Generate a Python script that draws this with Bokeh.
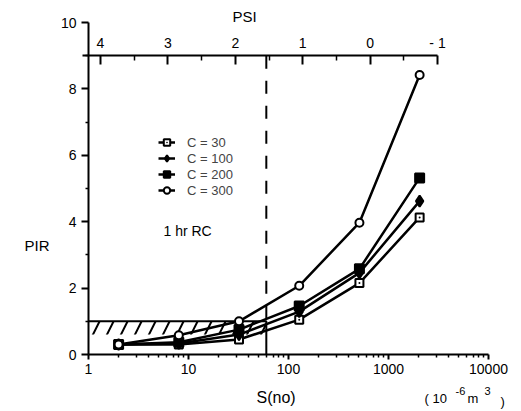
from bokeh.plotting import figure
from bokeh.models import (LinearAxis, LogAxis, Range1d, LinearScale, FixedTicker, Label,
                          Legend, LegendItem, PrintfTickFormatter)
from bokeh.embed import file_html
from bokeh.resources import INLINE

# ---------------- data ----------------
S = [2, 8, 32, 128, 512, 2048]
pir_c30 = [0.30, 0.30, 0.45, 1.05, 2.15, 4.13]
pir_c100 = [0.30, 0.33, 0.60, 1.29, 2.46, 4.62]
pir_c200 = [0.30, 0.37, 0.75, 1.46, 2.58, 5.32]
pir_c300 = [0.30, 0.58, 1.00, 2.07, 3.97, 8.42]
series_labels = ["C = 30", "C = 100", "C = 200", "C = 300"]

x_ticks = [1, 10, 100, 1000, 10000]
y_ticks = [0, 2, 4, 6, 8, 10]
y_minor = [1, 3, 5, 7, 9]
psi_ticks = [4, 3, 2, 1, 0, -1]
psi_minor = [3.5, 2.5, 1.5, 0.5, -0.5]

S_limit = 60          # dashed threshold
PIR_limit = 1         # hatched threshold
hatch_bottom = 0.6
psi_axis_level = 9

FONT = "Liberation Sans"

# ---------------- layout (canvas pixels) ----------------
W, H = 521, 411
X0_PX, DEC_PX = 88, 100.0       # x=1 position, pixels per decade
Y0_PX, Y_PX = 354, 33.2         # y=0 position, pixels per unit
PSI4_PX, PSI_PX = 100, 67.4     # PSI=4 position, pixels per unit

x_start = 10 ** (-X0_PX / DEC_PX)
x_end = 10 ** ((W - X0_PX) / DEC_PX)
y_start = -(H - Y0_PX) / Y_PX
y_end = Y0_PX / Y_PX
psi_start = 4 + PSI4_PX / PSI_PX
psi_end = 4 - (W - PSI4_PX) / PSI_PX

p = figure(width=W, height=H, x_axis_type="log",
           x_range=Range1d(x_start, x_end), y_range=Range1d(y_start, y_end),
           x_axis_location=None, y_axis_location=None,
           output_backend="svg", toolbar_location=None,
           min_border=0)
p.grid.visible = False
p.outline_line_color = None
p.background_fill_color = "white"
p.border_fill_color = "white"

# bottom axis at PIR = 0
xa = LogAxis(fixed_location=0, bounds=(1, 10000),
             ticker=FixedTicker(ticks=x_ticks,
                                minor_ticks=[m * d for d in [1, 10, 100, 1000] for m in range(2, 10)]),
             formatter=PrintfTickFormatter(format="%d"))
xa.major_tick_in = 0
xa.major_tick_out = 5
xa.minor_tick_in = 0
xa.minor_tick_out = 3
xa.major_label_standoff = 4
p.add_layout(xa, "below")

# left axis at S = 1
ya = LinearAxis(fixed_location=1, bounds=(0, 10),
                ticker=FixedTicker(ticks=y_ticks, minor_ticks=y_minor))
ya.major_tick_in = 0
ya.major_tick_out = 7
ya.minor_tick_in = 0
ya.minor_tick_out = 3
ya.major_label_standoff = 5
p.add_layout(ya, "left")

# top PSI axis at PIR = 9
p.extra_x_ranges = {"psi": Range1d(psi_start, psi_end)}
p.extra_x_scales = {"psi": LinearScale()}
top = LinearAxis(x_range_name="psi", fixed_location=psi_axis_level,
                 ticker=FixedTicker(ticks=psi_ticks, minor_ticks=psi_minor),
                 bounds=(-1.0, 4.27),
                 major_label_overrides={-1: "- 1"})
top.major_tick_in = 9
top.major_tick_out = 0
top.minor_tick_in = 5
top.minor_tick_out = 0
top.major_label_standoff = 5
p.add_layout(top, "above")

for ax in [xa, ya, top]:
    ax.axis_line_width = 2
    ax.axis_line_color = "black"
    ax.major_tick_line_width = 2
    ax.minor_tick_line_width = 1.5
    ax.major_label_text_font = FONT
    ax.major_label_text_font_size = "14px"
    ax.major_label_text_color = "black"

# hatched region and thresholds
p.quad(left=[1], right=[S_limit], bottom=[hatch_bottom], top=[PIR_limit],
       fill_color=None, line_color=None, hatch_pattern="/", hatch_color="black",
       hatch_weight=2, hatch_scale=28)
p.line(x=[1, S_limit, S_limit], y=[PIR_limit, PIR_limit, 0], line_color="black", line_width=2)
p.line(x=[S_limit, S_limit], y=[psi_axis_level, PIR_limit], line_color="black",
       line_width=2, line_dash="13 12")

# series
styles = [
    dict(marker="square_dot", size=8, fill_color="white"),
    dict(marker="diamond", size=11, fill_color="black"),
    dict(marker="square", size=9, fill_color="black"),
    dict(marker="circle", size=8, fill_color="white"),
]
items = []
for vals, lab_txt, st in zip([pir_c30, pir_c100, pir_c200, pir_c300], series_labels, styles):
    r1 = p.line(S, vals, line_color="black", line_width=2.5)
    r2 = p.scatter(S, vals, marker=st["marker"], size=st["size"], fill_color=st["fill_color"],
                   line_color="black", line_width=2)
    items.append(LegendItem(label=lab_txt, renderers=[r1, r2]))

legend = Legend(items=items, location=(158, 213), orientation="vertical",
                padding=0, margin=0, spacing=0, glyph_width=17, glyph_height=16,
                label_height=16, label_standoff=12, label_text_font=FONT,
                label_text_font_size="13px", border_line_color=None,
                background_fill_alpha=0)
p.add_layout(legend)

def lab(text, x, y, size, align="left"):
    p.add_layout(Label(x=x, y=y, x_units="screen", y_units="screen", text=text,
                       text_font=FONT, text_font_size=size, text_color="black",
                       text_baseline="middle", text_align=align))

lab("1 hr  RC", 163, 181, "14px")
lab("PIR", 24, 166, "15px")
lab("PSI", 232, 395, "15px")
lab("S(no)", 256, 14, "16px")
lab("( 10", 424, 13, "13px")
lab("-6", 455, 21, "11px")
lab("m", 467, 13, "13px")
lab("3", 484, 21, "11px")
lab(")", 500, 10, "13px")

open("out.html", "w").write(file_html(p, INLINE))
